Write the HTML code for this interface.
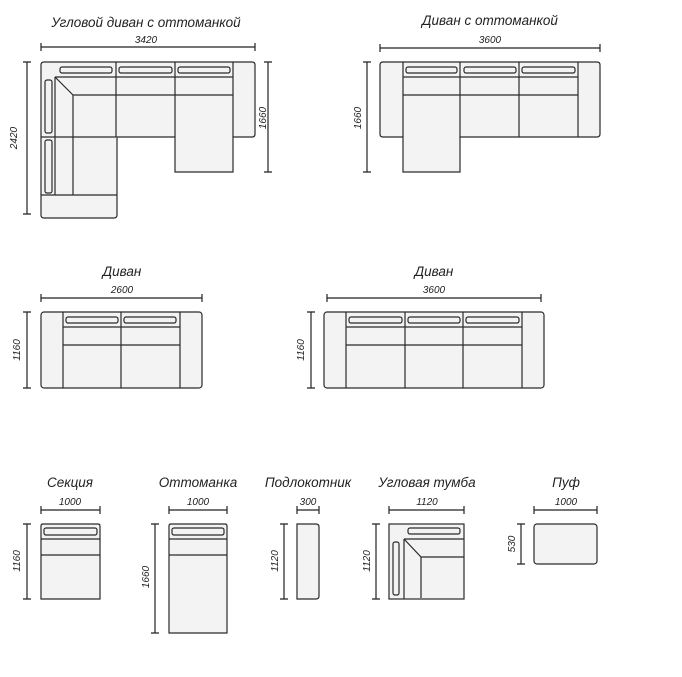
<!DOCTYPE html>
<html><head><meta charset="utf-8"><style>
html,body{margin:0;padding:0;background:#fff;width:682px;height:677px;overflow:hidden}
svg{display:block}
text{font-family:"Liberation Sans",sans-serif;font-style:italic;fill:#222}
.t{font-size:13.5px}
.d{font-size:10px}
.s{fill:#f3f3f3;stroke:#2a2a2a;stroke-width:1.2}
.n{fill:none;stroke:#2a2a2a;stroke-width:1.2}
.dl{stroke:#222;stroke-width:1.2;fill:none}
</style></head><body>
<svg width="682" height="677" viewBox="0 0 682 677" xmlns="http://www.w3.org/2000/svg">
<!-- Corner sofa -->
<text class="t" x="146" y="27" text-anchor="middle">Угловой диван с оттоманкой</text>
<text class="d" x="146" y="43" text-anchor="middle">3420</text>
<path class="dl" d="M41,47H255M41,43V51M255,43V51"/>
<path class="dl" d="M27,62V214M23,62H31M23,214H31"/>
<text class="d" transform="translate(17,138) rotate(-90)" text-anchor="middle">2420</text>
<path class="dl" d="M268,62V172M264,62H272M264,172H272"/>
<text class="d" transform="translate(266,118) rotate(-90)" text-anchor="middle">1660</text>
<path class="s" d="M44,62H252Q255,62 255,65V134Q255,137 252,137H233V172H175V137H117V215Q117,218 114,218H44Q41,218 41,215V65Q41,62 44,62Z"/>
<path class="n" d="M233,62V137M116,62V137M175,62V137M55,77H233M55,77V195M73,95V195M73,95H233M55,77L73,95M41,137H116M41,195H117M175,95V137"/>
<rect class="s" x="60" y="67" width="52" height="6" rx="2"/>
<rect class="s" x="119" y="67" width="53" height="6" rx="2"/>
<rect class="s" x="178" y="67" width="52" height="6" rx="2"/>
<rect class="s" x="45" y="80" width="7" height="53" rx="2"/>
<rect class="s" x="45" y="140" width="7" height="53" rx="2"/>
<!-- Sofa with ottoman -->
<text class="t" x="490" y="25" text-anchor="middle">Диван с оттоманкой</text>
<text class="d" x="490" y="43" text-anchor="middle">3600</text>
<path class="dl" d="M380,48H600M380,44V52M600,44V52"/>
<path class="dl" d="M367,62V172M363,62H371M363,172H371"/>
<text class="d" transform="translate(361,118) rotate(-90)" text-anchor="middle">1660</text>
<path class="s" d="M383,62H597Q600,62 600,65V134Q600,137 597,137H460V172H403V137H383Q380,137 380,134V65Q380,62 383,62Z"/>
<path class="n" d="M403,62V137M578,62V137M460,62V137M519,62V137M403,77H578M403,95H578"/>
<rect class="s" x="406" y="67" width="51" height="6" rx="2"/>
<rect class="s" x="464" y="67" width="52" height="6" rx="2"/>
<rect class="s" x="522" y="67" width="53" height="6" rx="2"/>
<!-- Sofa 2600 -->
<text class="t" x="122" y="276" text-anchor="middle">Диван</text>
<text class="d" x="122" y="293" text-anchor="middle">2600</text>
<path class="dl" d="M41,298H202M41,294V302M202,294V302"/>
<path class="dl" d="M27,312V388M23,312H31M23,388H31"/>
<text class="d" transform="translate(20,350) rotate(-90)" text-anchor="middle">1160</text>
<rect class="s" x="41" y="312" width="161" height="76" rx="3"/>
<path class="n" d="M63,312V388M180,312V388M121,312V388M63,327H180M63,345H180"/>
<rect class="s" x="66" y="317" width="52" height="6" rx="2"/>
<rect class="s" x="124" y="317" width="52" height="6" rx="2"/>
<!-- Sofa 3600 -->
<text class="t" x="434" y="276" text-anchor="middle">Диван</text>
<text class="d" x="434" y="293" text-anchor="middle">3600</text>
<path class="dl" d="M327,298H541M327,294V302M541,294V302"/>
<path class="dl" d="M311,312V388M307,312H315M307,388H315"/>
<text class="d" transform="translate(304,350) rotate(-90)" text-anchor="middle">1160</text>
<rect class="s" x="324" y="312" width="220" height="76" rx="3"/>
<path class="n" d="M346,312V388M522,312V388M405,312V388M463,312V388M346,327H522M346,345H522"/>
<rect class="s" x="349" y="317" width="53" height="6" rx="2"/>
<rect class="s" x="408" y="317" width="52" height="6" rx="2"/>
<rect class="s" x="466" y="317" width="53" height="6" rx="2"/>
<!-- Секция -->
<text class="t" x="70" y="487" text-anchor="middle">Секция</text>
<text class="d" x="70" y="505" text-anchor="middle">1000</text>
<path class="dl" d="M41,510H100M41,506V514M100,506V514"/>
<path class="dl" d="M27,524V599M23,524H31M23,599H31"/>
<text class="d" transform="translate(20,561) rotate(-90)" text-anchor="middle">1160</text>
<path class="s" d="M43,524H98Q100,524 100,526V599H41V526Q41,524 43,524Z"/>
<path class="n" d="M41,539H100M41,555H100"/>
<rect class="s" x="44" y="528" width="53" height="7" rx="2"/>
<!-- Оттоманка -->
<text class="t" x="198" y="487" text-anchor="middle">Оттоманка</text>
<text class="d" x="198" y="505" text-anchor="middle">1000</text>
<path class="dl" d="M169,510H227M169,506V514M227,506V514"/>
<path class="dl" d="M155,524V633M151,524H159M151,633H159"/>
<text class="d" transform="translate(149,577) rotate(-90)" text-anchor="middle">1660</text>
<path class="s" d="M171,524H225Q227,524 227,526V633H169V526Q169,524 171,524Z"/>
<path class="n" d="M169,539H227M169,555H227"/>
<rect class="s" x="172" y="528" width="52" height="7" rx="2"/>
<!-- Подлокотник -->
<text class="t" x="308" y="487" text-anchor="middle">Подлокотник</text>
<text class="d" x="308" y="505" text-anchor="middle">300</text>
<path class="dl" d="M297,510H319M297,506V514M319,506V514"/>
<path class="dl" d="M284,524V599M280,524H288M280,599H288"/>
<text class="d" transform="translate(278,561) rotate(-90)" text-anchor="middle">1120</text>
<path class="s" d="M297,524H316Q319,524 319,527V596Q319,599 316,599H297Z"/>
<!-- Угловая тумба -->
<text class="t" x="427" y="487" text-anchor="middle">Угловая тумба</text>
<text class="d" x="427" y="505" text-anchor="middle">1120</text>
<path class="dl" d="M389,510H464M389,506V514M464,506V514"/>
<path class="dl" d="M376,524V599M372,524H380M372,599H380"/>
<text class="d" transform="translate(370,561) rotate(-90)" text-anchor="middle">1120</text>
<rect class="s" x="389" y="524" width="75" height="75"/>
<path class="n" d="M404,539H464M404,539V599M404,539L421,557H464M421,557V598"/>
<rect class="s" x="408" y="528" width="52" height="6" rx="2"/>
<rect class="s" x="393" y="542" width="6" height="53" rx="2"/>
<!-- Пуф -->
<text class="t" x="566" y="487" text-anchor="middle">Пуф</text>
<text class="d" x="566" y="505" text-anchor="middle">1000</text>
<path class="dl" d="M534,510H597M534,506V514M597,506V514"/>
<path class="dl" d="M521,524V564M517,524H525M517,564H525"/>
<text class="d" transform="translate(515,544) rotate(-90)" text-anchor="middle">530</text>
<rect class="s" x="534" y="524" width="63" height="40" rx="3"/>
</svg>
</body></html>
